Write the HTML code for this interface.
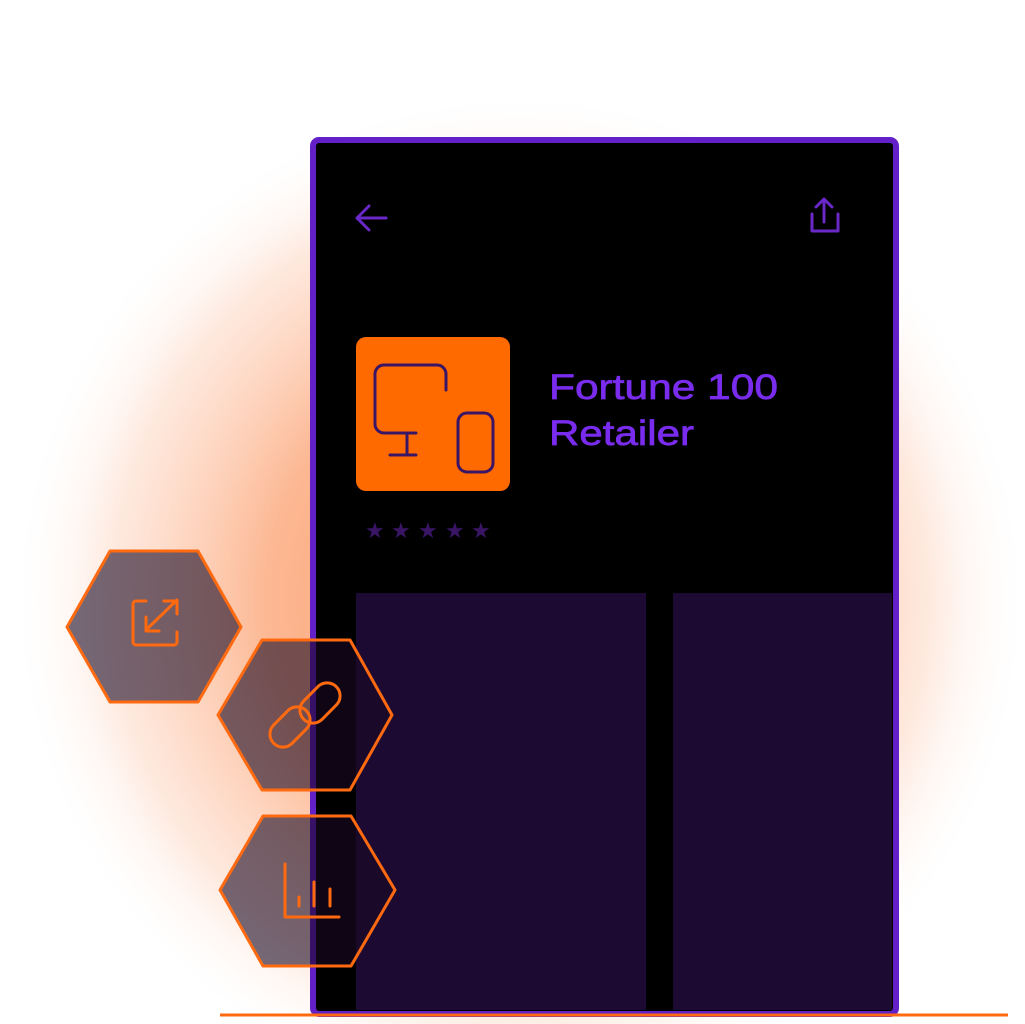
<!DOCTYPE html>
<html><head><meta charset="utf-8"><style>
html,body{margin:0;padding:0;width:1025px;height:1024px;overflow:hidden;background:#fff;font-family:"Liberation Sans",sans-serif}
</style></head><body>
<svg width="1025" height="1024" viewBox="0 0 1025 1024" xmlns="http://www.w3.org/2000/svg" style="position:absolute;left:0;top:0">
<defs>
<radialGradient id="g" cx="520" cy="600" r="510" gradientUnits="userSpaceOnUse">
<stop offset="0" stop-color="#ff8040" stop-opacity="0.9"/>
<stop offset="0.5" stop-color="#fb9a66" stop-opacity="0.7"/>
<stop offset="0.8" stop-color="#fdc0a0" stop-opacity="0.35"/>
<stop offset="1" stop-color="#ffffff" stop-opacity="0"/>
</radialGradient>
</defs>
<rect x="0" y="0" width="1025" height="1024" fill="url(#g)"/>
<rect x="313" y="140" width="583" height="874" rx="6" fill="#000" stroke="#6420c8" stroke-width="6"/>
<line x1="220" y1="1015" x2="1008" y2="1015" stroke="#ff6a10" stroke-width="3"/>
<rect x="356" y="593" width="290" height="417" fill="#1c0a33"/>
<rect x="673" y="593" width="219" height="417" fill="#1c0a33"/>
<g stroke="#6a28c8" stroke-width="3" fill="none" stroke-linecap="round" stroke-linejoin="round">
<path d="M386 218H357M369 206L357 218L369 230"/>
<path d="M824 200V222M816 207L824 199L832 207M812 214V231H838V214"/>
</g>
<rect x="356" y="337" width="154" height="154" rx="10" fill="#ff6a00"/>
<g stroke="#3a1566" stroke-width="3" fill="none" stroke-linecap="round">
<path d="M446 390V374a9 9 0 0 0 -9 -9H384a9 9 0 0 0 -9 9V424a9 9 0 0 0 9 9H416"/>
<path d="M407 433V454M390 455H416"/>
<rect x="458" y="413" width="35" height="59" rx="9"/>
</g>
<g fill="#7a2cee" stroke="#7a2cee" stroke-width="0.7">
<text x="549" y="399" font-size="35" textLength="229" lengthAdjust="spacingAndGlyphs">Fortune 100</text>
<text x="549" y="445" font-size="35" textLength="145" lengthAdjust="spacingAndGlyphs">Retailer</text>
</g>
<g fill="#3a1566" font-size="22">
<text x="365" y="538">★</text><text x="391" y="538">★</text><text x="418" y="538">★</text><text x="445" y="538">★</text><text x="471" y="538">★</text>
</g>
<g fill="rgba(25,8,35,0.6)" stroke="#ff6a10" stroke-width="3" stroke-linejoin="round">
<polygon points="67,627 110,551 198,551 241,627 198,702 110,702"/>
<polygon points="218,715 262,640 350,640 392,715 350,790 262,790"/>
<polygon points="220,890 263,816 351,816 395,890 351,966 263,966"/>
</g>
<g stroke="#ff6a10" stroke-width="3" fill="none" stroke-linecap="round" stroke-linejoin="round">
<path d="M146 601H136a3 3 0 0 0 -3 3V642a3 3 0 0 0 3 3H174a3 3 0 0 0 3 -3V632"/>
<path d="M146 630L177 600M164 601H177V614M146 617V631H159"/>
<rect x="297" y="690" width="46" height="26" rx="13" transform="rotate(-45 320 703)"/>
<rect x="267" y="714" width="46" height="26" rx="13" transform="rotate(-45 290 727)"/>
<path d="M285 864V917H339M299 897V906M314 882V906M330 889V906"/>
</g>
</svg>
</body></html>
